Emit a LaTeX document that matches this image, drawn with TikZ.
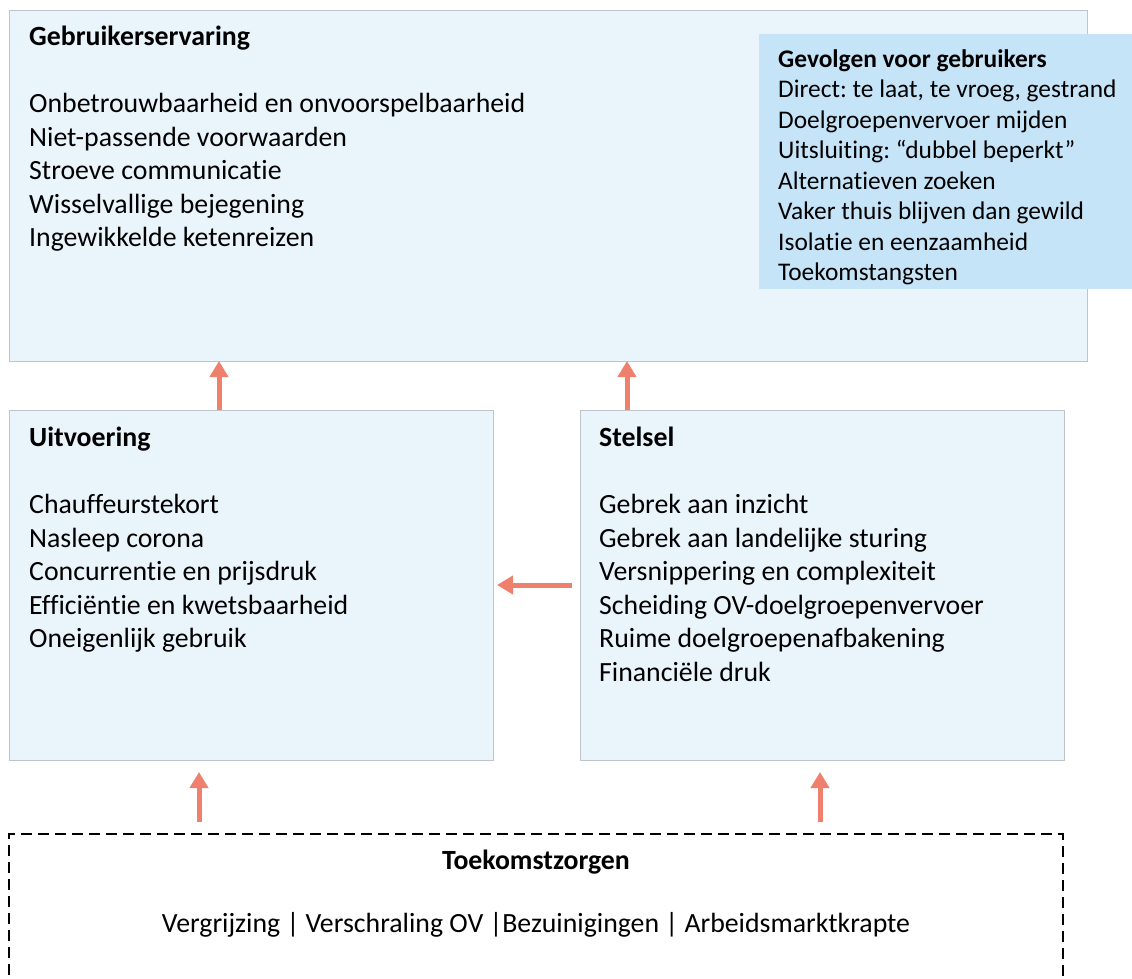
\documentclass[tikz,border=0pt]{standalone}
\usepackage{fontspec}
\setmainfont{Carlito}[Ligatures=NoCommon]
\usetikzlibrary{arrows.meta, positioning}
\definecolor{boxfill}{RGB}{234,244,251}
\definecolor{boxline}{RGB}{190,196,202}
\definecolor{gevolgfill}{RGB}{198,228,247}
\definecolor{arrowcol}{RGB}{239,128,110}
\frenchspacing

\begin{document}
\begin{tikzpicture}[
  x=1pt, y=-1pt,
  panel/.style={draw=boxline, fill=boxfill, line width=1pt, inner sep=0pt,
                outer sep=0pt, anchor=north west},
  gevolg/.style={fill=gevolgfill, inner sep=0pt, outer sep=0pt, anchor=north west},
  toekomst/.style={draw=black, line width=2pt, dash pattern=on 11pt off 6pt,
                   inner sep=0pt, outer sep=0pt, anchor=north west},
  % base anchor = baseline of the last line
  txt/.style={anchor=base west, align=left, inner sep=0pt,
              font=\fontsize{27.8}{33.5}\selectfont},
  smalltxt/.style={txt, font=\fontsize{25.4}{30.5}\selectfont},
  flow/.style={-{Triangle[width=18pt, length=16pt]}, draw=arrowcol,
               line width=5pt}
]
  \clip (0,0) rectangle (1132,979);
  \useasboundingbox (0,0) rectangle (1132,979);
  % boxes
  \node[panel, minimum width=1078pt, minimum height=350pt] (gebr) at (9,11) {};
  \node[gevolg, minimum width=373pt, minimum height=255pt] (gevolg) at (759,34) {};
  \node[panel, minimum width=484pt, minimum height=350pt] (uit) at (9,410) {};
  \node[panel, minimum width=484pt, minimum height=350pt] (stel) at (580,410) {};
  \node[toekomst, minimum width=1054pt, minimum height=176pt] (toek) at (9,834) {};
  % texts
  \node[txt] (gebrtxt) at (29,246.5) {\textbf{Gebruikerservaring}\\[34pt]
    Onbetrouwbaarheid en onvoorspelbaarheid\\
    Niet-passende voorwaarden\\
    Stroeve communicatie\\
    Wisselvallige bejegening\\
    Ingewikkelde ketenreizen};
  \node[smalltxt] (gevolgtxt) at (778,280.5) {\textbf{Gevolgen voor gebruikers}\\
    Direct: te laat, te vroeg, gestrand\\
    Doelgroepenvervoer mijden\\
    Uitsluiting: “dubbel beperkt”\\
    Alternatieven zoeken\\
    Vaker thuis blijven dan gewild\\
    Isolatie en eenzaamheid\\
    Toekomstangsten};
  \node[txt] (uittxt) at (29,647.5) {\textbf{Uitvoering}\\[34pt]
    Chauffeurstekort\\
    Nasleep corona\\
    Concurrentie en prijsdruk\\
    Efficiëntie en kwetsbaarheid\\
    Oneigenlijk gebruik};
  \node[txt] (steltxt) at (599,681) {\textbf{Stelsel}\\[34pt]
    Gebrek aan inzicht\\
    Gebrek aan landelijke sturing\\
    Versnippering en complexiteit\\
    Scheiding OV-doelgroepenvervoer\\
    Ruime doelgroepenafbakening\\
    Financiële druk};
  \node[txt, anchor=base, align=center] (toektxt) at (536,932)
    {\textbf{Toekomstzorgen}\\[29.5pt]
    Vergrijzing | Verschraling OV |Bezuinigingen | Arbeidsmarktkrapte};
  % arrows
  \draw[flow] ([xshift=-32pt]uit.north) -- ([xshift=-32pt]uit.north |- gebr.south);
  \draw[flow] ([xshift=-195pt]stel.north) -- ([xshift=-195pt]stel.north |- gebr.south);
  \draw[flow] ([xshift=-8pt]stel.west) -- ([xshift=4pt]uit.east);
  \draw[flow] ([xshift=-52pt,yshift=12pt]uit.south |- toek.north) -- ([xshift=-52pt,yshift=-12pt]uit.south);
  \draw[flow] ([xshift=-2pt,yshift=12pt]stel.south |- toek.north) -- ([xshift=-2pt,yshift=-12pt]stel.south);
\end{tikzpicture}
\end{document}
